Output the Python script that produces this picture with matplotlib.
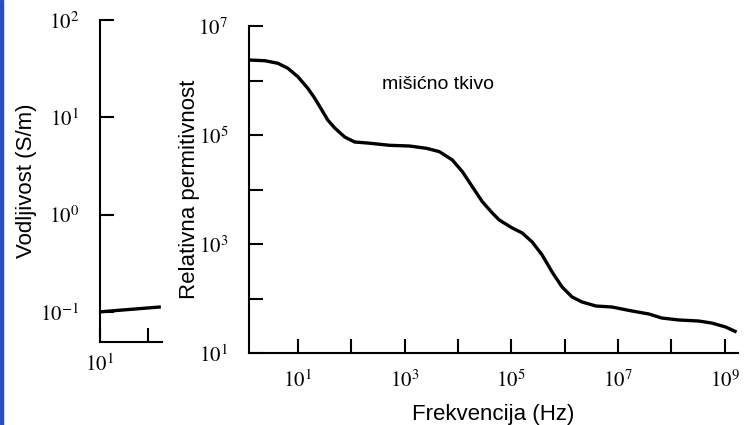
import numpy as np
import matplotlib
matplotlib.use("Agg")
import matplotlib.pyplot as plt
from matplotlib.patches import Rectangle

# muscle tissue: relative permittivity vs frequency (log10 values)
log_f = [0.084, 0.383, 0.626, 0.813, 1.000, 1.187, 1.318, 1.449, 1.561, 1.692,
         1.879, 2.065, 2.308, 2.720, 3.093, 3.411, 3.654, 3.897, 4.084, 4.271,
         4.458, 4.645, 4.776, 5.019, 5.206, 5.393, 5.579, 5.766, 5.953, 6.140,
         6.327, 6.589, 6.888, 7.262, 7.579, 7.822, 8.140, 8.514, 8.757, 9.019,
         9.224]
log_eps = [6.376, 6.363, 6.316, 6.224, 6.070, 5.857, 5.673, 5.459, 5.275, 5.128,
           4.963, 4.872, 4.853, 4.811, 4.798, 4.756, 4.694, 4.541, 4.327, 4.051,
           3.776, 3.569, 3.440, 3.294, 3.202, 3.037, 2.798, 2.486, 2.211, 2.028,
           1.936, 1.862, 1.844, 1.771, 1.716, 1.642, 1.606, 1.587, 1.550, 1.477,
           1.385]

# conductivity (left panel)
cond_f = [10, 90]
cond_s = [0.100, 0.112]

plt.rcParams['mathtext.fontset'] = 'stix'
plt.rcParams['font.family'] = 'Liberation Sans'

fig = plt.figure(figsize=(7.49, 4.25), dpi=100)

# main panel
ax = fig.add_axes([0.3324, 0.1694, 0.6529, 0.7694])
ax.plot(10 ** np.array(log_f), 10 ** np.array(log_eps), color='black', lw=2.4,
        solid_joinstyle='round', solid_capstyle='butt')
ax.set_xscale('log')
ax.set_yscale('log')
ax.set_xlim(10 ** 0.084, 10 ** 9.25)
ax.set_ylim(10, 1e7)
ax.set_xticks([10.0 ** k for k in range(1, 10)])
ax.set_xticklabels(['$10^{%d}$' % k if k % 2 else '' for k in range(1, 10)])
ax.set_yticks([10.0 ** k for k in range(1, 8)])
ax.set_yticklabels(['$10^{%d}$' % k if k % 2 else '' for k in range(1, 8)])
ax.minorticks_off()
ax.tick_params(direction='in', length=10, width=1.5, labelsize=15)
ax.tick_params(axis='y', pad=15)
ax.tick_params(axis='x', pad=12)
for s in ['top', 'right']:
    ax.spines[s].set_visible(False)
for s in ['left', 'bottom']:
    ax.spines[s].set_linewidth(1.5)
ax.set_xlabel('Frekvencija (Hz)', fontsize=16, labelpad=9)
ax.set_ylabel('Relativna permitivnost', fontsize=16, labelpad=-1)
ax.text(10 ** 2.57, 10 ** 5.85, 'mišićno tkivo', fontsize=14)

# left panel
ax2 = fig.add_axes([0.1335, 0.1953, 0.0828, 0.7576])
ax2.plot(cond_f, cond_s, color='black', lw=2.4)
ax2.set_xscale('log')
ax2.set_yscale('log')
ax2.set_xlim(10, 100)
ax2.set_ylim(10 ** -1.31, 100)
ax2.minorticks_off()
ax2.set_xticks([10, 60])
ax2.set_xticklabels(['$10^{1}$', ''])
ax2.set_yticks([0.1, 1, 10, 100])
ax2.set_yticklabels(['$10^{-1}$', '$10^{0}$', '$10^{1}$', '$10^{2}$'])
ax2.tick_params(direction='in', length=10, width=1.5, labelsize=15)
ax2.tick_params(axis='y', pad=15)
ax2.tick_params(axis='x', pad=8)
for s in ['top', 'right']:
    ax2.spines[s].set_visible(False)
for s in ['left', 'bottom']:
    ax2.spines[s].set_linewidth(1.5)
ax2.set_ylabel('Vodljivost (S/m)', fontsize=16, labelpad=2)

# slide edge strip
fig.patches.append(Rectangle((0, 0), 0.004, 1, transform=fig.transFigure,
                             color='#2a4fc0', zorder=5))

fig.savefig('out.png', dpi=100)
